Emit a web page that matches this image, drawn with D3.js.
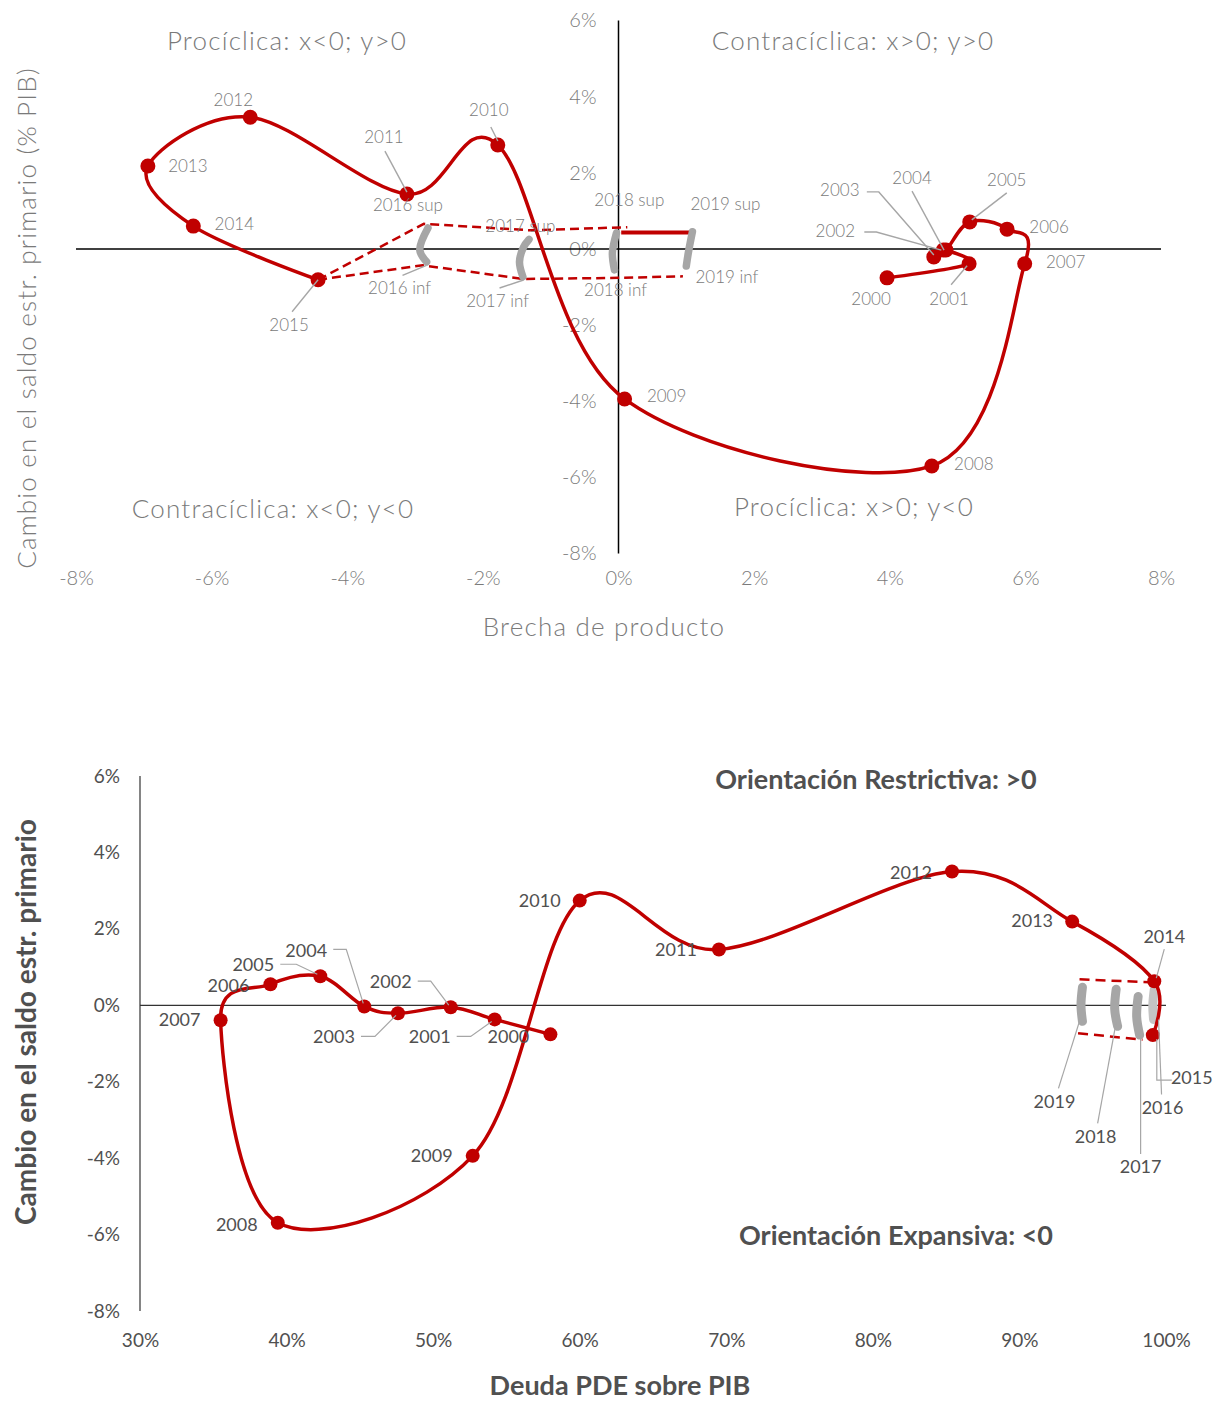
<!DOCTYPE html>
<html><head><meta charset="utf-8">
<script src="https://cdnjs.cloudflare.com/ajax/libs/d3/7.8.5/d3.min.js"></script>
<style>
body{margin:0;background:#fff;}
svg{display:block;}
.t1{font-family:Lato,"Open Sans",sans-serif;font-weight:300;fill:#7a7a7a;}
.t2{font-family:Lato,"Open Sans",sans-serif;fill:#505050;}
</style></head><body>
<script>
// ---------------- DATA ----------------
const years = ['2000','2001','2002','2003','2004','2005','2006','2007','2008','2009','2010','2011','2012','2013','2014','2015'];
// Top chart: output gap (%) vs change in structural primary balance (% GDP)
const outputGap = [3.96,5.17,4.79,4.65,4.83,5.18,5.73,5.99,4.62,0.09,-1.78,-3.12,-5.43,-6.94,-6.27,-4.43];
const balanceTop = [-0.76,-0.39,-0.03,-0.21,-0.03,0.71,0.52,-0.39,-5.70,-3.94,2.73,1.44,3.46,2.18,0.60,-0.81];
// projection band (top)
const supLabels = ['2016 sup','2017 sup','2018 sup'];
const supGap = [-2.87,-1.30,0.13];
const supBal = [0.66,0.49,0.57];
const infLabels = ['2016 inf','2017 inf','2018 inf','2019 inf'];
const infGap = [-2.89,-1.40,0.00,0.95];
const infBal = [-0.43,-0.79,-0.76,-0.72];
const sup19Gap = [0.04,1.12];
const sup19Bal = [0.43,0.43];
const brushTop = [
  [[-2.81,0.55],[-2.93,-0.03],[-2.83,-0.34]],
  [[-1.32,0.25],[-1.40,0.05],[-1.46,-0.34],[-1.41,-0.73]],
  [[-0.03,0.42],[-0.09,-0.10],[-0.06,-0.55]],
  [[1.09,0.45],[1.03,-0.10],[1.00,-0.45]]
];
const xTicksTop = [-8,-6,-4,-2,0,2,4,6,8];
const yTicks = [-8,-6,-4,-2,0,2,4,6];
// Bottom chart: debt (% GDP) vs change in structural primary balance
const debt = [58.0,54.2,51.2,47.6,45.3,42.3,38.9,35.5,39.4,52.7,60.0,69.5,85.4,93.6,99.2,99.1];
const balanceBottom = [-0.76,-0.37,-0.05,-0.21,-0.03,0.76,0.55,-0.39,-5.69,-3.94,2.74,1.46,3.50,2.19,0.63,-0.78];
const projYears = ['2016','2017','2018','2019'];
const brushBottom = [
  [[99.2,0.42],[99.1,0.0],[99.15,-0.37]],
  [[98.1,0.23],[98.0,-0.3],[98.2,-0.78]],
  [[96.6,0.42],[96.5,-0.1],[96.7,-0.55]],
  [[94.3,0.47],[94.2,0.0],[94.3,-0.42]]
];
const bandUpDebt = [94.1,99.0], bandUpBal = [0.68,0.60];
const bandLoDebt = [94.0,98.4], bandLoBal = [-0.73,-0.90];
const xTicksBottom = [30,40,50,60,70,80,90,100];

// ---------------- LAYOUT ----------------
const W = 1229, H = 1403;
const RED = '#c00000', GREY = '#a6a6a6', LEAD = '#a6a6a6';
const svg = d3.select('body').append('svg').attr('width',W).attr('height',H);
const pct = d => d + '%';

// ===== TOP CHART =====
const xT = d3.scaleLinear().domain([-8,8]).range([76,1161]);
const yT = d3.scaleLinear().domain([-8,6]).range([553.5,20.5]);
const gT = svg.append('g');

const axX = gT.append('g').attr('transform',`translate(0,${yT(-8)})`)
  .call(d3.axisBottom(xT).tickValues(xTicksTop).tickSize(0).tickPadding(27).tickFormat(pct));
const axY = gT.append('g').attr('transform',`translate(${xT(0)},0)`)
  .call(d3.axisLeft(yT).tickValues(yTicks).tickSize(0).tickPadding(22).tickFormat(pct));
[axX,axY].forEach(a=>{a.select('.domain').remove();
  a.selectAll('text').attr('class','t1').style('font-size','20px').attr('fill',null);});
axX.selectAll('text').attr('dy','0.2em');
gT.append('line').attr('x1',xT(-8)).attr('x2',xT(8)).attr('y1',yT(0)).attr('y2',yT(0)).attr('stroke','#000').attr('stroke-width',1.5);
gT.append('line').attr('x1',xT(0)).attr('x2',xT(0)).attr('y1',yT(6)).attr('y2',yT(-8)).attr('stroke','#000').attr('stroke-width',1.5);

const bigT = t => t.style('font-size','26px').style('letter-spacing','1.2px');
bigT(gT.append('text').attr('class','t1').attr('x',604).attr('y',636).attr('text-anchor','middle')).text('Brecha de producto');
bigT(gT.append('text').attr('class','t1').attr('transform','translate(36,318) rotate(-90)').attr('text-anchor','middle')).text('Cambio en el saldo estr. primario (% PIB)');
const quad = [['Procíclica: x<0; y>0',287,50],['Contracíclica: x>0; y>0',853,50],['Contracíclica: x<0; y<0',273,518],['Procíclica: x>0; y<0',854,516]];
quad.forEach(q=>bigT(gT.append('text').attr('class','t1').attr('x',q[1]).attr('y',q[2]).attr('text-anchor','middle')).text(q[0]));

// projection band
const lineT = d3.line().x(d=>xT(d[0])).y(d=>yT(d[1]));
const supPts = [[outputGap[15],balanceTop[15]]].concat(supGap.map((v,i)=>[v,supBal[i]]));
const infPts = [[outputGap[15],balanceTop[15]]].concat(infGap.map((v,i)=>[v,infBal[i]]));
gT.append('path').attr('d',lineT(supPts)).attr('fill','none').attr('stroke',RED).attr('stroke-width',2.5).attr('stroke-dasharray','9,5');
gT.append('path').attr('d',lineT(infPts)).attr('fill','none').attr('stroke',RED).attr('stroke-width',2.5).attr('stroke-dasharray','9,5');
gT.append('path').attr('d',lineT(sup19Gap.map((v,i)=>[v,sup19Bal[i]]))).attr('fill','none').attr('stroke',RED).attr('stroke-width',4);
const brushLineT = d3.line().x(d=>xT(d[0])).y(d=>yT(d[1])).curve(d3.curveCatmullRom.alpha(0.5));
brushTop.forEach(b=>gT.append('path').attr('d',brushLineT(b)).attr('fill','none').attr('stroke',GREY).attr('stroke-width',7.5).attr('stroke-linecap','round'));

const ptsT = years.map((y,i)=>[outputGap[i],balanceTop[i]]);
const curveT = d3.line().x(d=>xT(d[0])).y(d=>yT(d[1])).curve(d3.curveCatmullRom.alpha(0));
gT.append('path').attr('d',curveT(ptsT)).attr('fill','none').attr('stroke',RED).attr('stroke-width',3.5);
gT.selectAll('circle.p').data(ptsT).join('circle').attr('cx',d=>xT(d[0])).attr('cy',d=>yT(d[1])).attr('r',7.5).attr('fill',RED);

const labTop = {
 '2000':{dx:-16,dy:21},
 '2001':{dx:-20,dy:35,lead:[[-18,21],[-2,2]]},
 '2002':{dx:-108,dy:-19,lead:[[-79,-18],[-67,-18],[-2,0]]},
 '2003':{dx:-94,dy:-67,lead:[[-67,-65],[-55,-65],[0,-2]]},
 '2004':{dx:-34,dy:-72,lead:[[-34,-59],[-2,0]]},
 '2005':{dx:37,dy:-42,lead:[[37,-29],[2,-2]]},
 '2006':{dx:42,dy:-2},'2007':{dx:41,dy:-2},'2008':{dx:42,dy:-2},'2009':{dx:42,dy:-3},
 '2010':{dx:-9,dy:-35,lead:[[-7,-18],[0,-4]]},
 '2011':{dx:-23,dy:-57,lead:[[-22,-43],[0,-2]]},
 '2012':{dx:-17,dy:-17},'2013':{dx:40,dy:0},'2014':{dx:41,dy:-2},
 '2015':{dx:-29,dy:45,lead:[[-26,32],[0,0]]}
};
const leadT = gT.append('g'), labG = gT.append('g');
const smallT = t => t.style('font-size','17px');
years.forEach((yr,i)=>{
  const px = xT(outputGap[i]), py = yT(balanceTop[i]), o = labTop[yr];
  if(o.lead) leadT.append('polyline').attr('points',o.lead.map(p=>[px+p[0],py+p[1]].join(',')).join(' ')).attr('fill','none').attr('stroke',LEAD).attr('stroke-width',1.4);
  smallT(labG.append('text').attr('class','t1').attr('x',px+o.dx).attr('y',py+o.dy).attr('dy','0.35em').attr('text-anchor','middle')).text(yr);
});
const supOff = [[-16,-19],[-10,-4],[2,-27]];
supLabels.forEach((l,i)=>smallT(labG.append('text').attr('class','t1').attr('x',xT(supGap[i])+supOff[i][0]).attr('y',yT(supBal[i])+supOff[i][1]).attr('dy','0.35em').attr('text-anchor','middle')).text(l));
smallT(labG.append('text').attr('class','t1').attr('x',xT(sup19Gap[1])+31).attr('y',yT(sup19Bal[1])-29).attr('dy','0.35em').attr('text-anchor','middle')).text('2019 sup');
const infOff = [[-23,23],[-26,22],[-3,12],[44,1]];
const infLead = [[[-20,10],[4,0]],[[-24,9],[0,1]],null,null];
infLabels.forEach((l,i)=>{
  const px=xT(infGap[i]), py=yT(infBal[i]);
  if(infLead[i]) leadT.append('polyline').attr('points',infLead[i].map(p=>[px+p[0],py+p[1]].join(',')).join(' ')).attr('fill','none').attr('stroke',LEAD).attr('stroke-width',1.4);
  smallT(labG.append('text').attr('class','t1').attr('x',px+infOff[i][0]).attr('y',py+infOff[i][1]).attr('dy','0.35em').attr('text-anchor','middle')).text(l);
});

// ===== BOTTOM CHART =====
const xB = d3.scaleLinear().domain([30,100]).range([140,1166]);
const yB = d3.scaleLinear().domain([-8,6]).range([1311,776]);
const gB = svg.append('g');
const bX = gB.append('g').attr('transform',`translate(0,${yB(-8)})`)
  .call(d3.axisBottom(xB).tickValues(xTicksBottom).tickSize(0).tickPadding(23).tickFormat(pct));
const bY = gB.append('g').attr('transform',`translate(${xB(30)},0)`)
  .call(d3.axisLeft(yB).tickValues(yTicks).tickSize(0).tickPadding(20).tickFormat(pct));
[bX,bY].forEach(a=>{a.select('.domain').remove();
  a.selectAll('text').attr('class','t2').style('font-size','19px').attr('fill',null);});
gB.append('line').attr('x1',xB(30)).attr('x2',xB(30)).attr('y1',yB(6)).attr('y2',yB(-8)).attr('stroke','#333').attr('stroke-width',1.2);
gB.append('line').attr('x1',xB(30)).attr('x2',xB(100)).attr('y1',yB(0)).attr('y2',yB(0)).attr('stroke','#333').attr('stroke-width',1.2);

const boldB = t => t.attr('class','t2').attr('text-anchor','middle').style('font-size','28px').style('font-weight','bold').attr('fill','#595959');
boldB(gB.append('text').attr('x',620).attr('y',1395)).style('font-size','27px').text('Deuda PDE sobre PIB');
boldB(gB.append('text').attr('transform','translate(36,1022) rotate(-90)')).text('Cambio en el saldo estr. primario');
boldB(gB.append('text').attr('x',876).attr('y',789)).style('font-size','27px').text('Orientación Restrictiva: >0');
boldB(gB.append('text').attr('x',896).attr('y',1245)).style('font-size','27px').text('Orientación Expansiva: <0');

const lineB = d3.line().x(d=>xB(d[0])).y(d=>yB(d[1]));
gB.append('path').attr('d',lineB(bandUpDebt.map((v,i)=>[v,bandUpBal[i]]))).attr('fill','none').attr('stroke',RED).attr('stroke-width',2.5).attr('stroke-dasharray','10,6');
gB.append('path').attr('d',lineB(bandLoDebt.map((v,i)=>[v,bandLoBal[i]]))).attr('fill','none').attr('stroke',RED).attr('stroke-width',2.5).attr('stroke-dasharray','10,6');
const brushLineB = d3.line().x(d=>xB(d[0])).y(d=>yB(d[1])).curve(d3.curveCatmullRom.alpha(0.5));
brushBottom.forEach((b,i)=>gB.append('path').attr('d',brushLineB(b)).attr('fill','none').attr('stroke',i===0?'#c4c4c4':GREY).attr('stroke-width',9).attr('stroke-linecap','round'));

const ptsB = years.map((y,i)=>[debt[i],balanceBottom[i]]);
const curveB = d3.line().x(d=>xB(d[0])).y(d=>yB(d[1])).curve(d3.curveCatmullRom.alpha(0));
gB.append('path').attr('d',curveB(ptsB)).attr('fill','none').attr('stroke',RED).attr('stroke-width',3.5);
gB.selectAll('circle.p').data(ptsB).join('circle').attr('cx',d=>xB(d[0])).attr('cy',d=>yB(d[1])).attr('r',7).attr('fill',RED);

const labBot = {
 '2000':{dx:-42,dy:2},
 '2001':{dx:-65,dy:17,lead:[[-38,17],[-24,17],[-3,2]]},
 '2002':{dx:-60,dy:-25,lead:[[-33,-26],[-20,-26],[-2,-2]]},
 '2003':{dx:-64,dy:23,lead:[[-37,23],[-23,23],[-2,2]]},
 '2004':{dx:-58,dy:-56,lead:[[-31,-57],[-18,-57],[-1,-3]]},
 '2005':{dx:-67,dy:-12,lead:[[-40,-12],[-24,-12],[-3,-2]]},
 '2006':{dx:-42,dy:1},'2007':{dx:-41,dy:0},'2008':{dx:-41,dy:2},'2009':{dx:-41,dy:0},
 '2010':{dx:-40,dy:0},'2011':{dx:-43,dy:0},'2012':{dx:-41,dy:1},'2013':{dx:-40,dy:-1},
 '2014':{dx:10,dy:-45,lead:[[10,-32],[2,-3]]},
 '2015':{dx:39,dy:43,lead:[[4,4],[4,45],[19,45]]}
};
const leadB = gB.append('g'), labB = gB.append('g');
years.forEach((yr,i)=>{
  const px = xB(debt[i]), py = yB(balanceBottom[i]), o = labBot[yr];
  if(o.lead) leadB.append('polyline').attr('points',o.lead.map(p=>[px+p[0],py+p[1]].join(',')).join(' ')).attr('fill','none').attr('stroke',LEAD).attr('stroke-width',1.2);
  labB.append('text').attr('class','t2').attr('x',px+o.dx).attr('y',py+o.dy).attr('dy','0.35em').attr('text-anchor','middle').style('font-size','18px').text(yr);
});
const projOff = [[9,88],[1,132],[-22,110],[-28,80]];
const projLead = [[[8,75],[5,0]],[[1,119],[1,0]],[[-20,97],[0,-12]],[[-24,67],[-3,0]]];
projYears.forEach((yr,i)=>{
  const b = brushBottom[i], e = b[b.length-1];
  const px = xB(e[0]), py = yB(e[1]);
  leadB.append('polyline').attr('points',projLead[i].map(p=>[px+p[0],py+p[1]].join(',')).join(' ')).attr('fill','none').attr('stroke',LEAD).attr('stroke-width',1.2);
  labB.append('text').attr('class','t2').attr('x',px+projOff[i][0]).attr('y',py+projOff[i][1]).attr('dy','0.35em').attr('text-anchor','middle').style('font-size','18px').text(yr);
});
</script></body></html>
